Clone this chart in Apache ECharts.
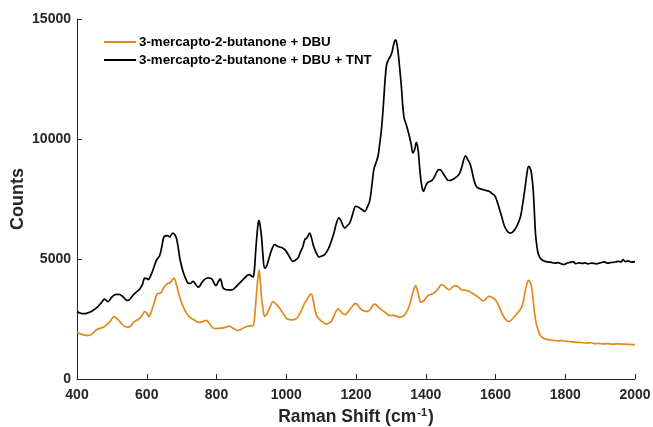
<!DOCTYPE html>
<html>
<head>
<meta charset="utf-8">
<script src="https://cdn.jsdelivr.net/npm/echarts@6/dist/echarts.min.js"></script>
<style>
  html, body { margin: 0; padding: 0; background: #fff; }
  #chart { width: 653px; height: 427px; }
</style>
</head>
<body>
<div id="chart"></div>
<script>
// series names
var nameDbu = '3-mercapto-2-butanone + DBU'
var nameTnt = '3-mercapto-2-butanone + DBU + TNT'

// axis ticks
var shiftTicks = [400, 600, 800, 1000, 1200, 1400, 1600, 1800, 2000]
var countTicks = [0, 5000, 10000, 15000]

// 3-mercapto-2-butanone + DBU (orange)
var shiftDbu = [
  400, 410, 422, 432, 441, 456, 468, 479, 494, 506,
  518, 528, 537, 546, 554, 561, 570, 580, 588, 594,
  600, 606, 612, 618, 624, 630, 640, 651, 660, 666,
  672, 678, 685, 694, 702, 709, 716, 723, 737, 750,
  760, 771, 780, 790, 800, 814, 825, 836, 848, 862,
  875, 886, 896, 905, 910, 914, 918, 922, 926, 929,
  934, 938, 943, 948, 955, 962, 968, 976, 988, 1000,
  1010, 1019, 1027, 1034, 1044, 1053, 1060, 1067, 1072, 1077,
  1082, 1088, 1096, 1106, 1115, 1122, 1129, 1136, 1142, 1148,
  1155, 1162, 1168, 1175, 1182, 1190, 1196, 1201, 1208, 1215,
  1225, 1234, 1243, 1249, 1254, 1260, 1266, 1273, 1285, 1297,
  1306, 1316, 1323, 1330, 1338, 1346, 1353, 1359, 1365, 1371,
  1375, 1378, 1382, 1385, 1390, 1397, 1407, 1414, 1421, 1428,
  1435, 1440, 1445, 1450, 1454, 1460, 1467, 1476, 1486, 1494,
  1502, 1512, 1521, 1530, 1540, 1552, 1562, 1567, 1572, 1578,
  1583, 1590, 1598, 1605, 1612, 1619, 1626, 1633, 1639, 1647,
  1655, 1665, 1674, 1680, 1684, 1690, 1695, 1699, 1703, 1708,
  1712, 1717, 1722, 1728, 1736, 1750, 1765, 1780, 1790, 1803,
  1815, 1830, 1845, 1861, 1875, 1885, 1895, 1908, 1920, 1935,
  1945, 1956, 1970, 1985, 2000
]
var countsDbu = [
  1950, 1880, 1830, 1820, 1850, 2050, 2120, 2190, 2380, 2600,
  2470, 2300, 2190, 2160, 2200, 2350, 2440, 2540, 2680, 2810,
  2760, 2600, 2760, 3020, 3300, 3550, 3590, 3850, 3980, 4000,
  4100, 4200, 3930, 3440, 3100, 2880, 2700, 2580, 2450, 2360,
  2390, 2440, 2310, 2130, 2100, 2120, 2150, 2200, 2110, 2020,
  2110, 2190, 2210, 2230, 2700, 3450, 4100, 4550, 4000, 3400,
  2850, 2610, 2680, 2820, 3050, 3230, 3150, 3050, 2800, 2540,
  2470, 2460, 2500, 2600, 2880, 3170, 3320, 3500, 3540, 3300,
  2900, 2620, 2470, 2360, 2290, 2320, 2400, 2600, 2800, 2920,
  2840, 2720, 2680, 2760, 2880, 3040, 3130, 3140, 3020, 2890,
  2830, 2820, 2950, 3080, 3120, 3060, 2960, 2890, 2760, 2640,
  2650, 2630, 2580, 2590, 2650, 2820, 3050, 3380, 3700, 3890,
  3750, 3580, 3330, 3200, 3220, 3300, 3480, 3520, 3560, 3640,
  3750, 3860, 3930, 3910, 3870, 3780, 3720, 3820, 3890, 3830,
  3720, 3700, 3680, 3600, 3510, 3390, 3270, 3260, 3330, 3420,
  3440, 3400, 3330, 3180, 2960, 2720, 2540, 2430, 2400, 2480,
  2610, 2780, 2960, 3250, 3580, 3950, 4110, 4050, 3860, 3300,
  2750, 2300, 2050, 1830, 1710, 1640, 1610, 1590, 1600, 1570,
  1560, 1530, 1520, 1500, 1510, 1470, 1480, 1460, 1470, 1450,
  1460, 1460, 1450, 1440, 1430
]

// 3-mercapto-2-butanone + DBU + TNT (black)
var shiftTnt = [
  400, 410, 422, 432, 441, 450, 460, 470, 479, 489,
  498, 508, 515, 522, 532, 540, 546, 553, 561, 570,
  580, 588, 594, 600, 604, 611, 618, 625, 630, 637,
  643, 650, 659, 666, 670, 675, 680, 685, 690, 694,
  699, 704, 711, 718, 725, 733, 740, 747, 752, 757,
  766, 776, 783, 788, 793, 798, 805, 811, 815, 819,
  828, 837, 846, 855, 862, 870, 881, 889, 895, 900,
  905, 909, 912, 916, 920, 922, 925, 929, 933, 938,
  943, 948, 955, 962, 967, 974, 981, 988, 996, 1005,
  1012, 1019, 1027, 1034, 1041, 1048, 1053, 1060, 1067, 1072,
  1077, 1082, 1088, 1094, 1102, 1110, 1120, 1129, 1137, 1144,
  1151, 1158, 1164, 1168, 1175, 1182, 1190, 1199, 1205, 1211,
  1218, 1225, 1232, 1239, 1245, 1251, 1257, 1263, 1268, 1273,
  1278, 1282, 1286, 1289, 1294, 1299, 1303, 1306, 1310, 1313,
  1316, 1320, 1325, 1330, 1334, 1338, 1345, 1352, 1358, 1363,
  1368, 1373, 1378, 1382, 1386, 1390, 1394, 1400, 1406, 1412,
  1418, 1422, 1426, 1432, 1437, 1443, 1449, 1455, 1462, 1469,
  1475, 1481, 1486, 1492, 1498, 1504, 1509, 1514, 1520, 1526,
  1532, 1538, 1544, 1550, 1557, 1564, 1572, 1583, 1590, 1598,
  1605, 1612, 1619, 1626, 1633, 1639, 1643, 1649, 1655, 1663,
  1672, 1678, 1684, 1690, 1695, 1699, 1703, 1708, 1712, 1715,
  1719, 1722, 1728, 1736, 1748, 1760, 1770, 1780, 1788, 1796,
  1805, 1812, 1822, 1830, 1840, 1850, 1856, 1865, 1875, 1889,
  1900, 1913, 1920, 1930, 1937, 1945, 1952, 1960, 1966, 1972,
  1980, 1990, 2000
]
var countsTnt = [
  2810, 2740, 2720, 2760, 2810, 2900, 3020, 3180, 3330, 3220,
  3380, 3510, 3530, 3520, 3420, 3300, 3270, 3350, 3500, 3620,
  3750, 3950, 4200, 4190, 4140, 4300, 4550, 4850, 5000, 5140,
  5500, 5940, 5970, 5920, 6000, 6080, 6020, 5870, 5500, 5100,
  4750, 4480, 4200, 4000, 3980, 4070, 3950, 3830, 3870, 4000,
  4150, 4210, 4200, 4140, 4000, 3890, 4050, 4170, 4000, 3790,
  3720, 3710, 3720, 3830, 3930, 4050, 4210, 4330, 4350, 4290,
  4250, 4600, 5250, 6000, 6550, 6600, 6400, 5950, 5200, 4620,
  4680, 4900, 5250, 5520, 5600, 5540, 5500, 5470, 5390, 5200,
  5020, 4900, 4960, 5050, 5300, 5530, 5800, 5900, 6080, 5900,
  5600, 5390, 5200, 5080, 5120, 5180, 5400, 5730, 6100, 6500,
  6710, 6550, 6350, 6290, 6390, 6500, 6850, 7190, 7180, 7120,
  7050, 6980, 7150, 7400, 8000, 8720, 9000, 9280, 9800, 10400,
  11300, 12200, 12900, 13170, 13330, 13450, 13600, 13800, 14050, 14130,
  14050, 13700, 13000, 12200, 11400, 10880, 10550, 10180, 9800, 9420,
  9550, 9860, 9550, 8900, 8300, 7950, 7820, 8050, 8190, 8230,
  8280, 8350, 8450, 8640, 8720, 8700, 8580, 8450, 8300, 8270,
  8300, 8340, 8400, 8470, 8600, 8860, 9150, 9300, 9150, 9000,
  8700, 8300, 8050, 7960, 7920, 7890, 7860, 7810, 7730, 7640,
  7380, 7050, 6700, 6360, 6180, 6090, 6080, 6120, 6220, 6420,
  6780, 7300, 7890, 8550, 8860, 8800, 8580, 7890, 6800, 6000,
  5500, 5250, 5040, 4940, 4880, 4860, 4830, 4850, 4800, 4770,
  4830, 4850, 4890, 4810, 4840, 4820, 4840, 4800, 4830, 4800,
  4840, 4880, 4830, 4850, 4860, 4880, 4900, 4880, 4970, 4890,
  4920, 4870, 4890
]

function zip(xs, ys) {
  return xs.map(function (x, i) { return [x, ys[i]] })
}

var font = 'Liberation Sans, Arial, sans-serif'
var axisColor = '#262626'

var chart = echarts.init(document.getElementById('chart'), null, { renderer: 'canvas' })

chart.setOption({
  backgroundColor: '#fff',
  animation: false,
  grid: {
    left: 77,
    right: 18,
    top: 19,
    bottom: 48,
    containLabel: false,
    outerBoundsMode: 'none'
  },
  legend: {
    orient: 'vertical',
    left: 104,
    top: 35,
    padding: 0,
    icon: 'rect',
    itemWidth: 32,
    itemHeight: 2,
    itemGap: 4,
    textStyle: {
      fontFamily: font,
      fontWeight: 'bold',
      fontSize: 13.3,
      color: '#000',
      lineHeight: 14,
      padding: [0, 0, 0, -2]
    },
    data: [nameDbu, nameTnt]
  },
  xAxis: {
    type: 'value',
    min: shiftTicks[0],
    max: shiftTicks[shiftTicks.length - 1],
    interval: 200,
    // 标题带上标 cm^-1
    name: '{a|Raman Shift (cm}{b|-1}{a|)}',
    nameLocation: 'middle',
    nameGap: 28,
    nameMoveOverlap: false,
    nameTextStyle: {
      rich: {
        a: { fontFamily: font, fontWeight: 'bold', fontSize: 17.5, color: axisColor, lineHeight: 20 },
        b: { fontFamily: font, fontWeight: 'bold', fontSize: 11, color: axisColor, padding: [0, 1, 10, 1] }
      }
    },
    axisLine: { lineStyle: { color: axisColor, width: 1 } },
    axisTick: { inside: true, length: 5, lineStyle: { color: axisColor } },
    axisLabel: {
      fontFamily: font,
      fontWeight: 'bold',
      fontSize: 14,
      color: axisColor,
      margin: 9,
      formatter: function (v) { return String(v) }
    },
    splitLine: { show: false }
  },
  yAxis: {
    type: 'value',
    min: countTicks[0],
    max: countTicks[countTicks.length - 1],
    interval: 5000,
    name: 'Counts',
    nameLocation: 'middle',
    nameGap: 50,
    nameMoveOverlap: false,
    nameTextStyle: {
      fontFamily: font,
      fontWeight: 'bold',
      fontSize: 18,
      color: axisColor
    },
    axisLine: { show: true, lineStyle: { color: axisColor, width: 1 } },
    axisTick: { show: true, inside: true, length: 5, lineStyle: { color: axisColor } },
    axisLabel: {
      fontFamily: font,
      fontWeight: 'bold',
      fontSize: 14,
      color: axisColor,
      margin: 6,
      formatter: function (v) { return String(v) }
    },
    splitLine: { show: false }
  },
  series: [{
    name: nameDbu,
    type: 'line',
    smooth: 0.35,
    showSymbol: false,
    symbol: 'none',
    itemStyle: { color: '#E08A1E' },
    lineStyle: { color: '#E08A1E', width: 1.7 },
    data: zip(shiftDbu, countsDbu)
  }, {
    name: nameTnt,
    type: 'line',
    smooth: 0.35,
    showSymbol: false,
    symbol: 'none',
    itemStyle: { color: '#000' },
    lineStyle: { color: '#000', width: 1.7 },
    data: zip(shiftTnt, countsTnt)
  }]
})
</script>
</body>
</html>
